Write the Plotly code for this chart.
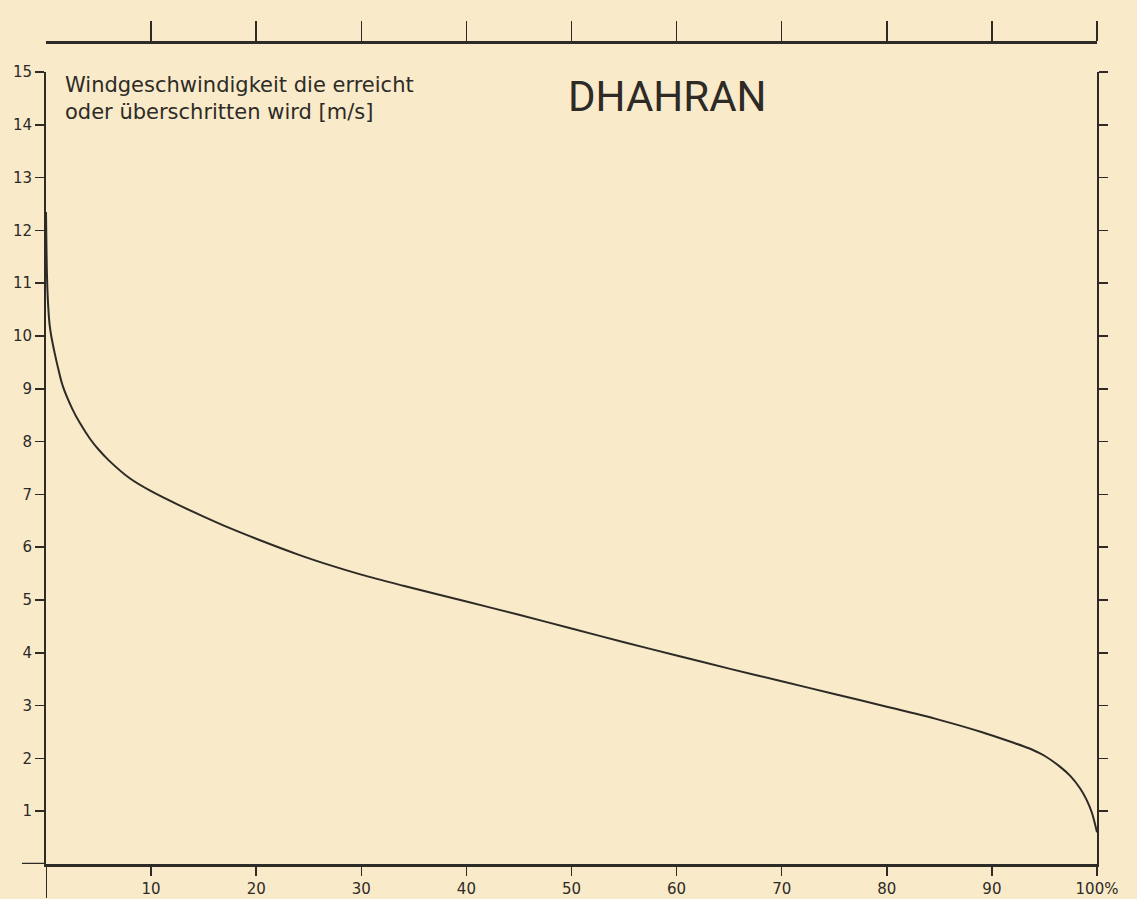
import plotly.graph_objects as go

# Data (percent of time vs. wind speed m/s)
percent = [0, 0.1, 0.2, 0.35, 0.5, 0.8, 1.2, 1.6, 2.5, 3.2, 4.2, 5, 6, 8, 10, 12.5, 15,
           17.5, 20, 24, 27, 30, 34, 40, 45, 50, 55, 60, 65, 70, 75, 80, 85, 89,
           92, 93, 94, 95, 96.5, 97.5, 98.4, 99, 99.5, 100]
speed = [12.35, 11.1, 10.6, 10.2, 10.0, 9.7, 9.35, 9.05, 8.62, 8.36, 8.05, 7.85, 7.64,
         7.3, 7.06, 6.81, 6.58, 6.36, 6.16, 5.86, 5.66, 5.48, 5.27, 4.97, 4.72, 4.46,
         4.2, 3.95, 3.7, 3.46, 3.22, 2.98, 2.73, 2.5, 2.3, 2.23, 2.15, 2.05, 1.84, 1.66,
         1.43, 1.22, 0.98, 0.6]

x_tickvals = [10, 20, 30, 40, 50, 60, 70, 80, 90, 100]
x_ticktext = ["10", "20", "30", "40", "50", "60", "70", "80", "90", "100%"]
y_tickvals = list(range(1, 16))
y_ticktext = [str(v) for v in y_tickvals]

title_text = "DHAHRAN"
label_text = "Windgeschwindigkeit die erreicht<br>oder überschritten wird [m/s]"

INK = "#2e2b26"
BG = "#f9eaca"
FONT = "DejaVu Sans"

fig = go.Figure()
fig.add_trace(go.Scatter(x=percent, y=speed, mode="lines",
                         line=dict(color=INK, width=2, shape="spline", smoothing=0.9),
                         hoverinfo="skip", showlegend=False))
# invisible trace so the secondary axes are drawn
fig.add_trace(go.Scatter(x=[0], y=[0], xaxis="x2", yaxis="y2", mode="markers",
                         marker=dict(opacity=0), hoverinfo="skip", showlegend=False))

W, H = 1137, 899
ml, mr, mt, mb = 46, 40, 42, 35
plot_w = W - ml - mr
plot_h = H - mt - mb
ydom_top = (H - mb - 72) / plot_h

axis_common = dict(showgrid=False, zeroline=False, linecolor=INK, tickcolor=INK,
                   fixedrange=True, automargin=False)

fig.update_layout(
    width=W, height=H,
    margin=dict(l=ml, r=mr, t=mt, b=mb, autoexpand=False),
    paper_bgcolor=BG, plot_bgcolor=BG,
    font=dict(family=FONT, color=INK),
    showlegend=False,
    xaxis=dict(range=[0, 100], showline=True, linewidth=2.5, ticks="outside",
               ticklen=9, tickwidth=1.5, tickvals=x_tickvals, ticktext=x_ticktext,
               tickfont=dict(size=15, family=FONT, color=INK), anchor="y",
               **axis_common),
    xaxis2=dict(range=[0, 100], overlaying="x", side="top", anchor="free", position=1,
                showline=True, linewidth=2.5, ticks="outside", ticklen=20, tickwidth=1.5,
                tickvals=x_tickvals, showticklabels=False, **axis_common),
    yaxis=dict(range=[0, 15], domain=[0, ydom_top], showline=True, linewidth=2,
               ticks="outside", ticklen=9, tickwidth=1.5, tickvals=y_tickvals,
               ticktext=y_ticktext, tickfont=dict(size=15, family=FONT, color=INK),
               anchor="x", **axis_common),
    yaxis2=dict(range=[0, 15], domain=[0, ydom_top], overlaying="y", side="right",
                anchor="x", showline=True, linewidth=2, ticks="outside", ticklen=9,
                tickwidth=1.5, tickvals=y_tickvals, showticklabels=False,
                **axis_common),
)

# axis extensions beyond the frame (bottom axis to the left, left axis downward)
fig.add_shape(type="line", xref="paper", yref="y", x0=-24 / plot_w, x1=0,
              y0=0, y1=0, line=dict(color=INK, width=2.5))
fig.add_shape(type="line", xref="x", yref="paper", x0=0, x1=0, y0=0,
              y1=-34 / plot_h, line=dict(color=INK, width=2))

fig.add_annotation(text=label_text, xref="paper", yref="paper",
                   x=(63 - ml) / plot_w, y=(H - mb - 71) / plot_h,
                   xanchor="left", yanchor="top", align="left", showarrow=False,
                   font=dict(size=21, family=FONT, color=INK))
fig.add_annotation(text=title_text, xref="paper", yref="paper",
                   x=(667 - ml) / plot_w, y=(H - mb - 97) / plot_h,
                   xanchor="center", yanchor="middle", showarrow=False,
                   font=dict(size=42, family="Roboto", color=INK))

fig.write_html("out.html",
               config={"displayModeBar": False, "staticPlot": True},
               post_script="document.body.style.margin='0';"
                           "document.body.style.overflow='hidden';")
